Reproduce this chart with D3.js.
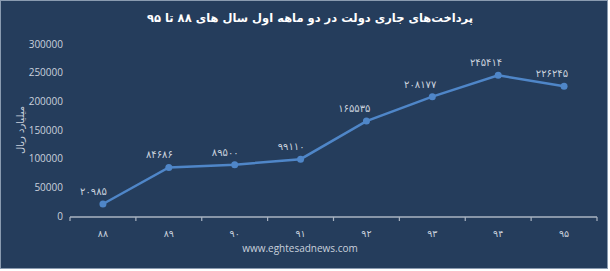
<!DOCTYPE html>
<html>
<head>
<meta charset="utf-8">
<script src="https://cdn.jsdelivr.net/npm/d3@7"></script>
<style>
  html, body { margin: 0; padding: 0; background: #ffffff; }
  svg { display: block; }
</style>
</head>
<body>
<div id="vis-container"></div>
<script>
// data
var years = [88, 89, 90, 91, 92, 93, 94, 95];
var payments = [20985, 84686, 89500, 99110, 165535, 208177, 245414, 226245];
var yTicks = [0, 50000, 100000, 150000, 200000, 250000, 300000];

var titleText = "پرداخت‌های جاری دولت در دو ماهه اول سال های ۸۸ تا ۹۵";
var yTitle = "میلیارد ریال";
var source = "www.eghtesadnews.com";

// svg size
var width = 610;
var height = 271;

// plot area
var plotLeft = 70, plotRight = 597, plotTop = 44, plotBottom = 216;

// persian digits
function fa(n) {
	return String(n).replace(/[0-9]/g, function (d) { return "۰۱۲۳۴۵۶۷۸۹"[+d]; });
}

var svg = d3.select("#vis-container")
	.append("svg")
	.attr("width", width)
	.attr("height", height);

svg.append("rect")
	.attr("x", 0.5).attr("y", 0.5)
	.attr("width", 607).attr("height", 268)
	.attr("fill", "#253d5c")
	.attr("stroke", "#8a9bb0")
	.attr("stroke-width", 1);

var x = d3.scaleBand().domain(years).range([plotLeft, plotRight]);
var y = d3.scaleLinear().domain([0, 300000]).range([plotBottom, plotTop]);

// title
svg.append("text")
	.attr("x", 310).attr("y", 22)
	.attr("text-anchor", "middle")
	.attr("direction", "rtl")
	.attr("font-family", "DejaVu Sans")
	.attr("font-weight", "bold")
	.attr("font-size", 11.5)
	.attr("fill", "#ffffff")
	.text(titleText);

// y axis: labels only
var yaxis = d3.axisLeft(y).tickValues(yTicks).tickSize(0).tickPadding(6)
	.tickFormat(function (d) { return d; });
var yg = svg.append("g")
	.attr("transform", "translate(" + (plotLeft - 1) + ",0)")
	.call(yaxis);
yg.select(".domain").remove();
yg.selectAll("text")
	.attr("font-family", "Open Sans")
	.attr("font-size", 10)
	.attr("fill", "#c9d1dc");

svg.append("text")
	.attr("transform", "translate(24," + 130 + ") rotate(-90)")
	.attr("text-anchor", "middle")
	.attr("direction", "rtl")
	.attr("font-family", "DejaVu Sans")
	.attr("font-size", 10)
	.attr("fill", "#c9d1dc")
	.text(yTitle);

// x axis with ticks on band edges
var xg = svg.append("g").attr("transform", "translate(0," + (plotBottom + 1) + ")");
xg.append("line")
	.attr("x1", plotLeft).attr("x2", plotRight)
	.attr("stroke", "#aab4c2").attr("stroke-width", 1.5);
var edges = years.map(function (d) { return x(d); }).concat([plotRight]);
xg.selectAll(".edge").data(edges).enter().append("line")
	.attr("x1", function (d) { return d; }).attr("x2", function (d) { return d; })
	.attr("y1", 0).attr("y2", 4)
	.attr("stroke", "#aab4c2").attr("stroke-width", 1.2);
xg.selectAll(".lbl").data(years).enter().append("text")
	.attr("x", function (d) { return x(d) + x.bandwidth() / 2; })
	.attr("y", 20)
	.attr("text-anchor", "middle")
	.attr("font-family", "DejaVu Sans")
	.attr("font-size", 9.5)
	.attr("fill", "#c9d1dc")
	.text(function (d) { return fa(d); });

// line
var cx = function (d, i) { return x(years[i]) + x.bandwidth() / 2; };
var line = d3.line().x(cx).y(function (d) { return y(d); });
svg.append("path")
	.attr("d", line(payments))
	.attr("fill", "none")
	.attr("stroke", "#4f86c8")
	.attr("stroke-width", 2.5);

svg.selectAll(".pt").data(payments).enter().append("circle")
	.attr("cx", cx)
	.attr("cy", function (d) { return y(d); })
	.attr("r", 3.5)
	.attr("fill", "#4f86c8");

// value labels
svg.selectAll(".val").data(payments).enter().append("text")
	.attr("x", function (d, i) { return cx(d, i) + 4; })
	.attr("y", function (d) { return y(d) - 9; })
	.attr("text-anchor", "end")
	.attr("font-family", "DejaVu Sans")
	.attr("font-size", 10)
	.attr("letter-spacing", 0.8)
	.attr("fill", "#c9d1dc")
	.text(function (d) { return fa(d); });

// watermark
svg.append("text")
	.attr("x", 300).attr("y", 252)
	.attr("text-anchor", "middle")
	.attr("font-family", "Open Sans")
	.attr("font-size", 10)
	.attr("fill", "#c9d1dc")
	.text(source);
</script>
</body>
</html>
